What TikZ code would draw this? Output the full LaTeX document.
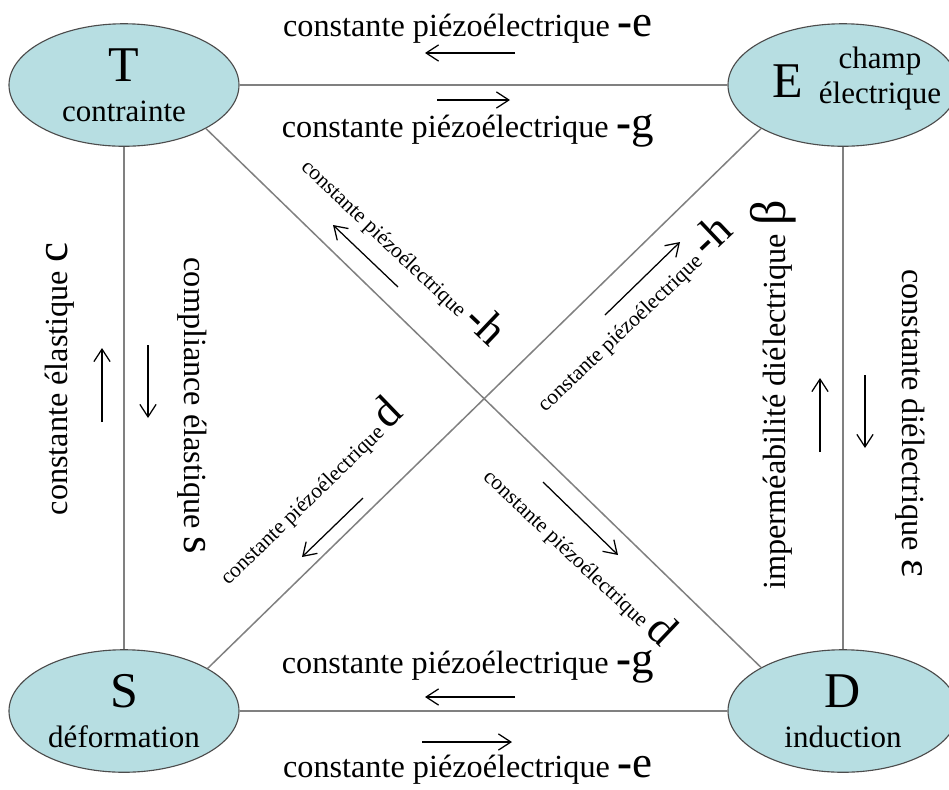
\documentclass[tikz,border=0pt]{standalone}
\usepackage{fontspec}
\setmainfont{Liberation Serif}
\usetikzlibrary{arrows.meta,shapes.geometric}
\definecolor{bleuell}{RGB}{183,222,226}
\newcommand{\grand}[1]{{\fontsize{18}{18}\selectfont #1}}
\newcommand{\moins}{\textbf{-}}

\begin{document}
\begin{tikzpicture}[x=.4pt,y=-.4pt,>={Straight Barb[length=5pt,width=6.5pt]},
  ell/.style={ellipse,draw=black!70,line width=.45pt,fill=bleuell,minimum width=92pt,minimum height=49pt,inner sep=0pt,align=center,font=\fontsize{12.4}{16}\selectfont},
  lien/.style={draw=black!50,line width=.6pt},
  fl/.style={->,line width=.5pt},
  txt/.style={font=\fontsize{12.9}{14}\selectfont},
  petit/.style={font=\fontsize{8.6}{10}\selectfont,inner sep=0pt}]
\useasboundingbox (0,0) rectangle (949,789);
% les quatre grandeurs
\node[ell] (T) at (124,85) {{\fontsize{20}{20}\selectfont T}\\contrainte};
\node[ell] (E) at (843,85) {};
\node[ell] (S) at (124,711) {{\fontsize{20}{20}\selectfont S}\\déformation};
\node[ell] (D) at (843,711) {{\fontsize{20}{20}\selectfont D}\\induction};
\node[font=\fontsize{20}{20}\selectfont,anchor=base] (Elettre) at (788,97) {E};
\node[align=center,font=\fontsize{12.4}{14}\selectfont] (Etexte) at (880,79) {champ\\électrique};

% liaisons
\draw[lien] (T.east) -- (E.west);
\draw[lien] (S.east) -- (D.west);
\draw[lien] (T.south) -- (S.north);
\draw[lien] (E.south) -- (D.north);
\draw[lien] (T.-28) -- (D.152);
\draw[lien] (E.208) -- (S.27);

% haut
\node[txt,anchor=base] (eh) at (468,36) {constante piézoélectrique \grand{\moins e}};
\draw[fl] (515,53) -- (425,53);
\draw[fl] (437,100) -- (510,100);
\node[txt,anchor=base] (gh) at (468,137) {constante piézoélectrique \grand{\moins g}};
% bas
\node[txt,anchor=base] (gb) at (468,673) {constante piézoélectrique \grand{\moins g}};
\draw[fl] (515,697) -- (425,697);
\draw[fl] (422,742) -- (512,742);
\node[txt,anchor=base] (eb) at (468,777) {constante piézoélectrique \grand{\moins e}};
% gauche
\node[txt,rotate=90,anchor=base] (c) at (68,379) {constante élastique \grand{c}};
\draw[fl] (102,422) -- (102,348);
\draw[fl] (148,345) -- (148,418);
\node[txt,rotate=-90,anchor=base] (s) at (185,406) {compliance élastique \grand{s}};
% droite
\node[txt,rotate=90,anchor=base] (beta) at (785,395) {imperméabilité diélectrique {\fontsize{20}{20}\selectfont β}};
\draw[fl] (820,452) -- (820,378);
\draw[fl] (865,375) -- (865,448);
\node[txt,rotate=-90,anchor=base] (eps) at (902,423) {constante diélectrique {\fontsize{17}{17}\selectfont ε}};

% diagonales
\node[petit,rotate=-43.5,anchor=base west] (hg) at (300,168) {constante piézoélectrique \grand{\moins h}};
\draw[fl] (398,287) -- (333,225);
\node[petit,rotate=43.5,anchor=base west] (hd) at (545,413) {constante piézoélectrique \grand{\moins h}};
\draw[fl] (605,315) -- (680,242);
\node[petit,rotate=44,anchor=base west] (dg) at (228,586) {constante piézoélectrique \grand{d}};
\draw[fl] (363,498) -- (302,557);
\node[petit,rotate=-43.5,anchor=base west] (dd) at (482,478) {constante piézoélectrique \grand{d}};
\draw[fl] (543,482) -- (618,555);
\end{tikzpicture}
\end{document}
